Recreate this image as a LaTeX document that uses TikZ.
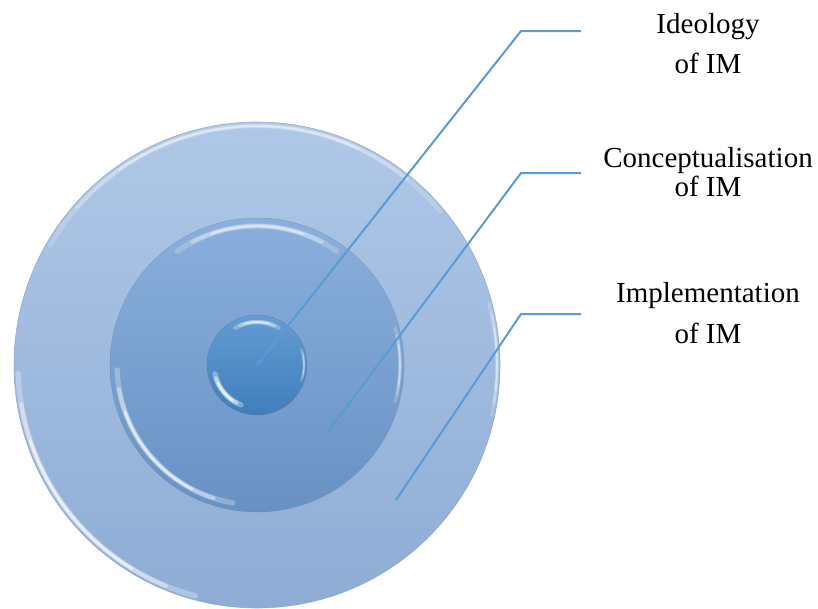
\documentclass[tikz,border=0pt]{standalone}
\usepackage{fontspec}
\setmainfont{Liberation Serif}
\definecolor{outerTop}{HTML}{AFC8E7}
\definecolor{outerBot}{HTML}{8EACD5}
\definecolor{midTop}{HTML}{8AAFDC}
\definecolor{midBot}{HTML}{6891C4}
\definecolor{inTop}{HTML}{649CD3}
\definecolor{inBot}{HTML}{3F7EBC}
\definecolor{rimc}{HTML}{8CA6CB}
\definecolor{lineblue}{HTML}{5B9BD5}
% soft glint: radius, start angle, end angle, width, strength
\newcommand\myglint[5]{%
  \pgfmathsetmacro\gmid{(#2+#3)/2}%
  \pgfmathsetmacro\ghalf{(#3-#2)/2}%
  \foreach \f/\o/\w in {1/0.18/1.8, 0.8/0.25/1.3, 0.55/0.35/0.8}{%
    \pgfmathsetmacro\gs{\gmid-\ghalf*\f}%
    \pgfmathsetmacro\ge{\gmid+\ghalf*\f}%
    \pgfmathsetmacro\go{min(1,\o*#5)}%
    \draw[white,line cap=round,line width=#4*\w pt,opacity=\go]
      (O) ++(\gs:#1) arc[start angle=\gs,end angle=\ge,radius=#1];
  }%
}
\begin{document}
\begin{tikzpicture}[x=1pt,y=-1pt,
  conn/.style={draw=lineblue,line width=2pt},
  lbl/.style={font=\fontsize{29}{35}\selectfont,inner sep=0pt,anchor=base}]
\useasboundingbox (0,0) rectangle (818,608);
\fill[white] (0,0) rectangle (818,608);
\coordinate (O) at (257,365);
% outer disc
\shade[top color=outerTop,bottom color=outerBot] (O) circle[radius=243];
\draw[rimc,line width=0.6pt,opacity=0.8] (O) circle[radius=243];
\myglint{239}{-150}{-40}{2.5}{1}
\myglint{239}{105}{178}{3}{1.6}
\myglint{240}{-15}{12}{2}{1}
% middle disc
\shade[top color=midTop,bottom color=midBot] (O) circle[radius=147];
\draw[rimc!80!black,line width=0.5pt,opacity=0.5] (O) circle[radius=147];
\myglint{139}{-125}{-55}{3}{1.2}
\myglint{140}{100}{178}{3}{1.5}
\myglint{143}{-15}{15}{2}{1}
% inner disc
\shade[top color=inTop,bottom color=inBot] (O) circle[radius=50];
\draw[rimc!70!black,line width=0.5pt,opacity=0.5] (O) circle[radius=50];
\myglint{43}{-120}{-60}{2.5}{1.4}
\myglint{43}{112}{168}{3}{1.8}
\myglint{47}{-20}{20}{1.5}{1}
% connectors
\coordinate (p1) at (257,365);
\coordinate (k1) at (521,31);
\coordinate (e1) at (581,31);
\coordinate (p2) at (327,433);
\coordinate (k2) at (521,173);
\coordinate (e2) at (581,173);
\coordinate (p3) at (396,500);
\coordinate (k3) at (521,314);
\coordinate (e3) at (581,314);
\draw[conn] (p1) -- (k1) -- (e1);
\draw[conn] (p2) -- (k2) -- (e2);
\draw[conn] (p3) -- (k3) -- (e3);
% labels
\node[lbl] (l1a) at (708,33) {Ideology};
\node[lbl] (l1b) at (708,73) {of IM};
\node[lbl] (l2a) at (708,167) {Conceptualisation};
\node[lbl] (l2b) at (708,196) {of IM};
\node[lbl] (l3a) at (708,302) {Implementation};
\node[lbl] (l3b) at (708,343) {of IM};
\end{tikzpicture}
\end{document}
